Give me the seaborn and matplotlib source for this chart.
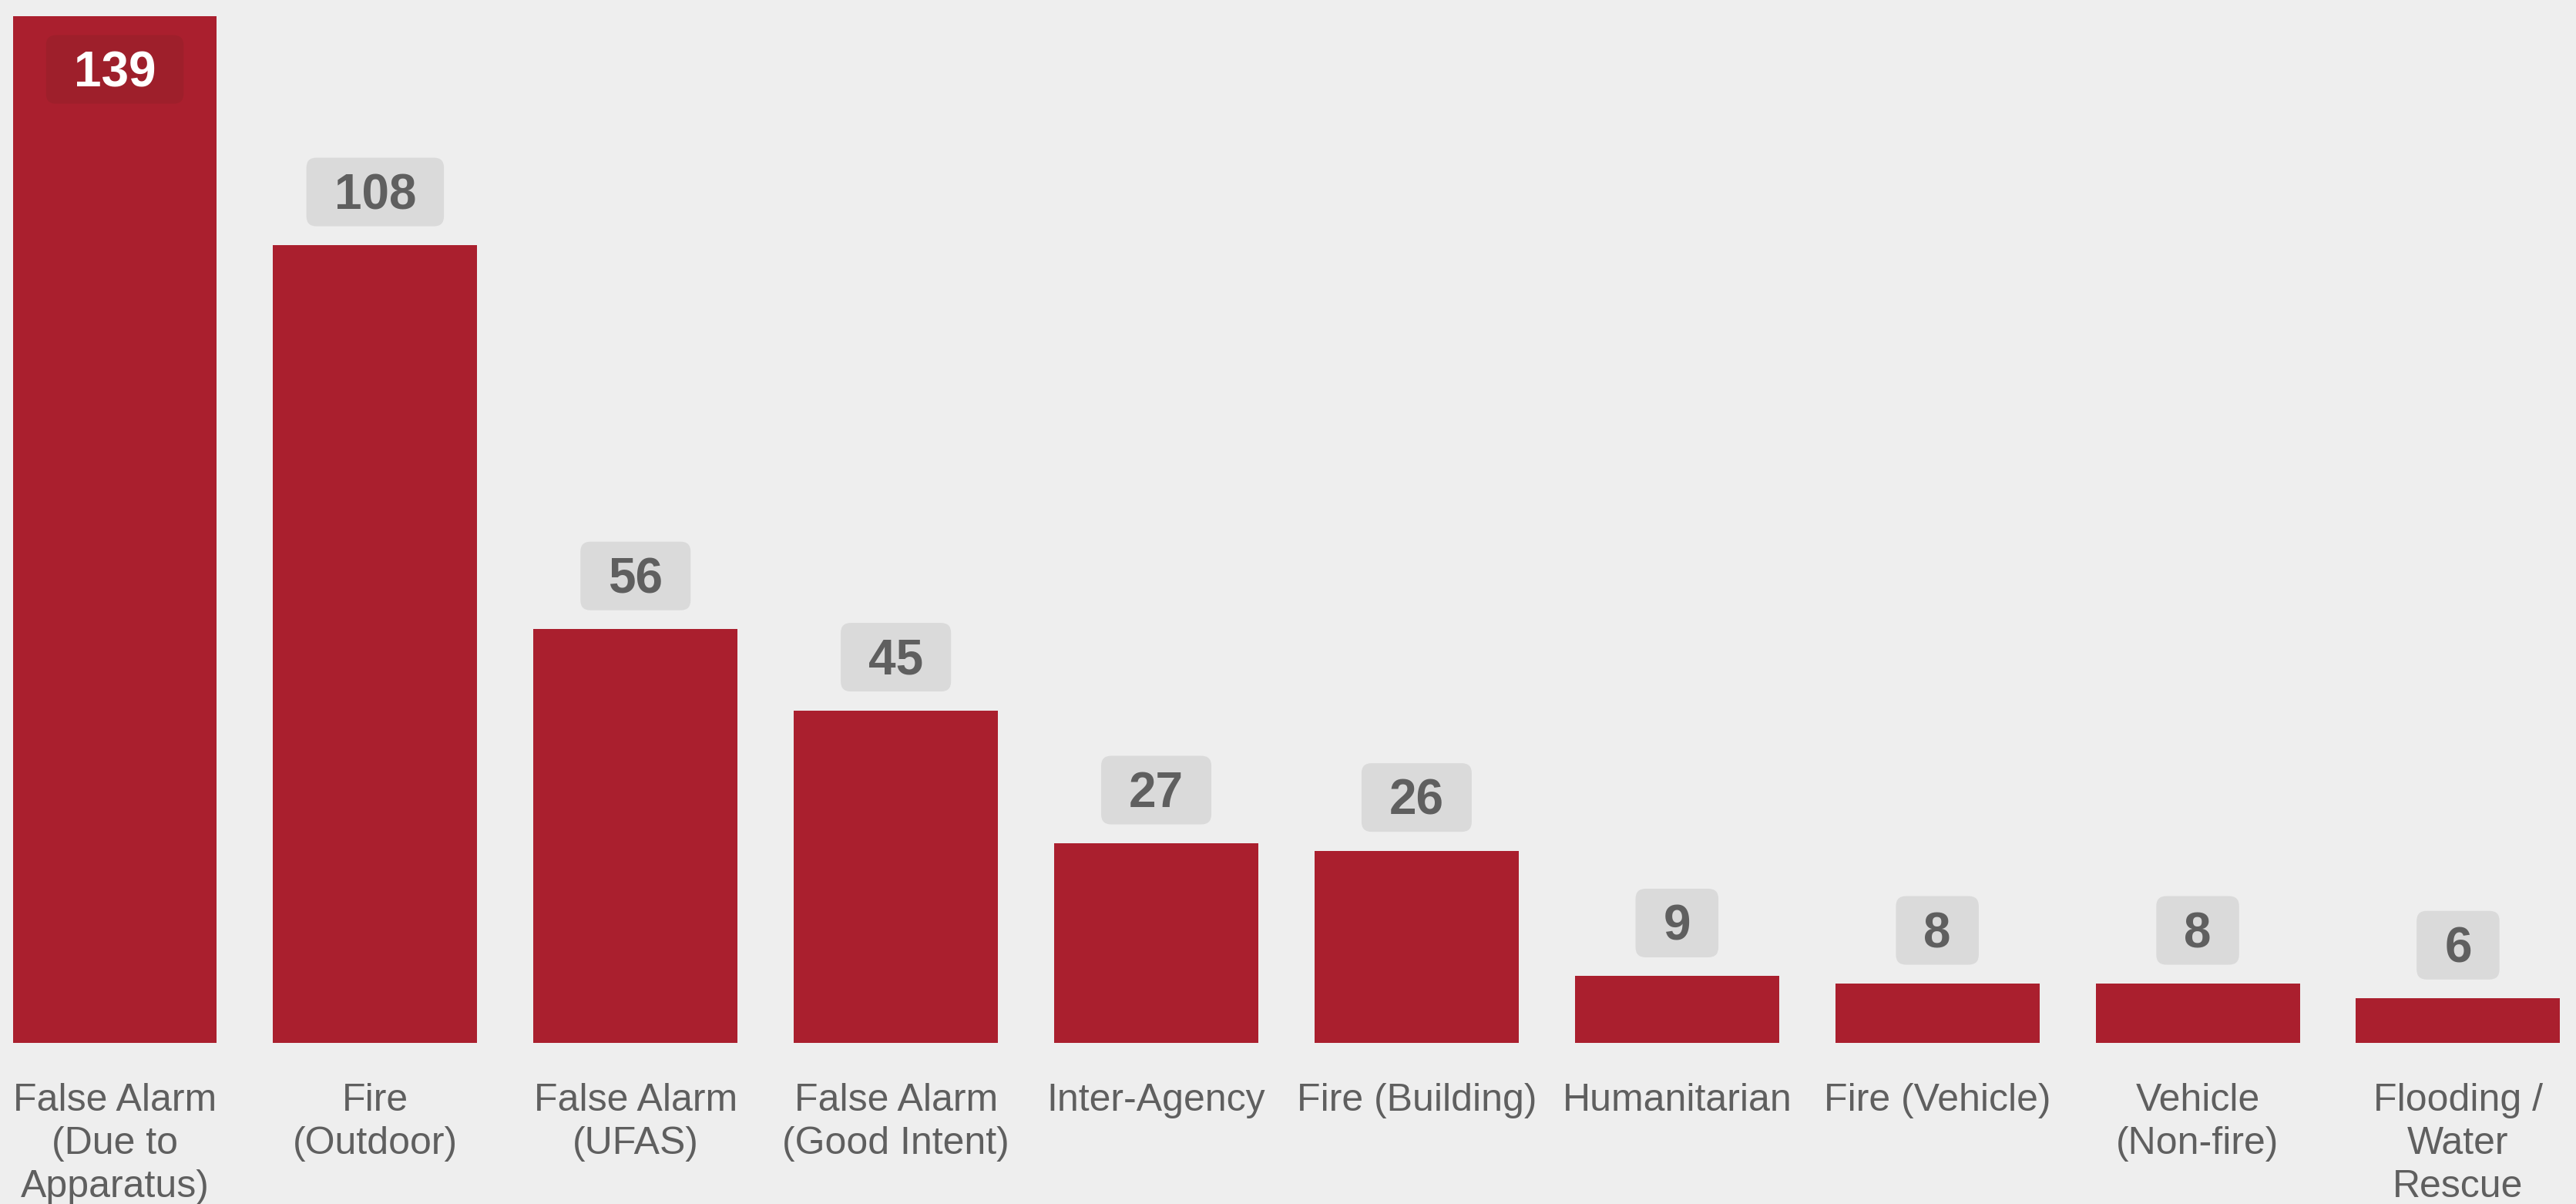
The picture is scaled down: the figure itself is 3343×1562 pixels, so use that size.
import matplotlib
matplotlib.use('Agg')
import matplotlib.pyplot as plt
import seaborn as sns
import pandas as pd
from matplotlib.patches import FancyBboxPatch
from matplotlib.transforms import IdentityTransform

categories = ['False Alarm\n(Due to\nApparatus)', 'Fire\n(Outdoor)', 'False Alarm\n(UFAS)',
              'False Alarm\n(Good Intent)', 'Inter-Agency', 'Fire (Building)', 'Humanitarian',
              'Fire (Vehicle)', 'Vehicle\n(Non-fire)', 'Flooding /\nWater\nRescue']
counts = [139, 108, 56, 45, 27, 26, 9, 8, 8, 6]

BG = '#eeeeee'
BAR = '#aa1f2e'
BAR_DARK = '#9e1f2b'
GREY_BOX = '#dadada'
TEXT = '#5f5f5f'

DPI = 200
sns.set_theme(style='white')
plt.rcParams['font.family'] = ['Liberation Sans', 'DejaVu Sans']

df = pd.DataFrame({'type': categories, 'count': counts})

fig = plt.figure(figsize=(3343 / DPI, 1562 / DPI), dpi=DPI, facecolor=BG)
ax = fig.add_axes([0, 0.134, 1, 0.866])
ax.set_facecolor(BG)

sns.barplot(data=df, x='type', y='count', color=BAR, saturation=1, width=0.784,
            linewidth=0, ax=ax)

ax.set_xlim(-0.441, 9.453)
ax.set_ylim(0, 141.2)
ax.set_xlabel('')
ax.set_ylabel('')
ax.set_yticks([])
for s in ax.spines.values():
    s.set_visible(False)
ax.tick_params(axis='x', length=0, pad=19, labelsize=18, labelcolor=TEXT)
for lbl in ax.get_xticklabels():
    lbl.set_linespacing(1.27)

# value badges: rounded box around the count, inside the tallest bar
renderer = fig.canvas.get_renderer()
top = max(counts)
for i, v in enumerate(counts):
    inside = v == top
    centre_off = -69 if inside else 69   # px from bar top to badge centre
    base_off = centre_off - 22           # digit baseline
    t = ax.annotate(str(v), xy=(i, v), xytext=(0, base_off * 72 / DPI),
                    textcoords='offset points', ha='center', va='baseline',
                    fontsize=23, fontweight='bold',
                    color='white' if inside else TEXT, zorder=4)
    ext = t.get_window_extent(renderer=renderer)
    cx, cy = ax.transData.transform((i, v))
    cy += centre_off
    w = ext.width + 2 * 36
    h = 89
    box = FancyBboxPatch((cx - w / 2, cy - h / 2), w, h,
                         boxstyle='round,pad=0,rounding_size=13',
                         transform=IdentityTransform(),
                         facecolor=BAR_DARK if inside else GREY_BOX,
                         edgecolor='none', zorder=3)
    ax.add_patch(box)

fig.savefig('out.png', dpi=DPI, facecolor=BG)
